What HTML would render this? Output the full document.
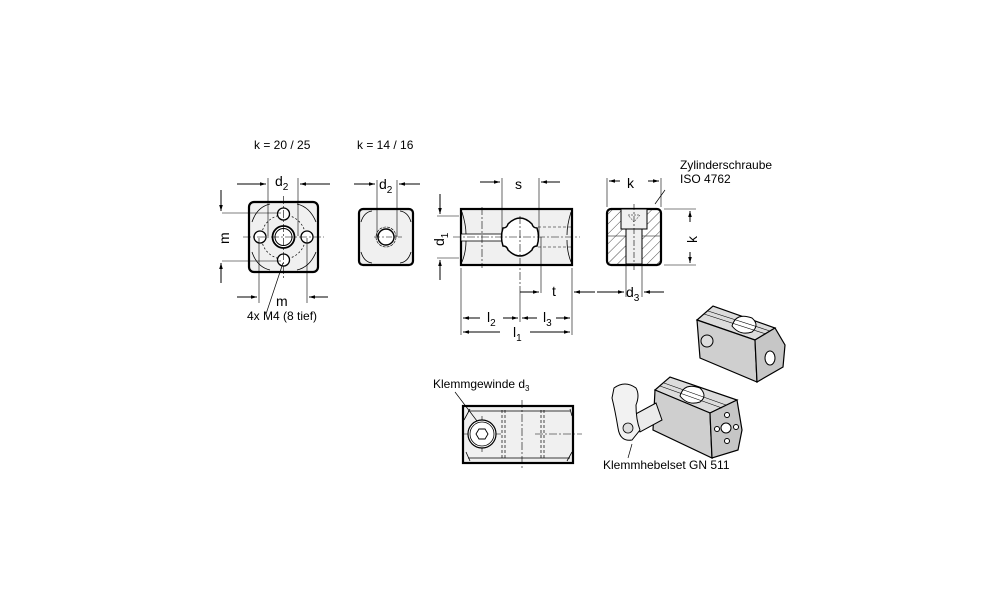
<!DOCTYPE html>
<html><head><meta charset="utf-8"><style>
html,body{margin:0;padding:0;background:#fff}
svg{display:block}
text{font-family:"Liberation Sans",Arial,sans-serif;fill:#000}
</style></head><body>
<svg width="1000" height="611" viewBox="0 0 1000 611" xmlns="http://www.w3.org/2000/svg">
<defs>
<marker id="a" viewBox="0 0 10 10" refX="10" refY="5" markerWidth="8" markerHeight="6" orient="auto-start-reverse"><path d="M0,2 L10,5 L0,8z" fill="#000"/></marker>
<pattern id="h" width="7" height="7" patternUnits="userSpaceOnUse" patternTransform="rotate(45)"><line x1="0" y1="0" x2="0" y2="7" stroke="#000" stroke-width="0.7"/></pattern>
</defs>
<g stroke="#000" fill="none" stroke-width="1">
<!-- View 1 -->
<rect x="249" y="202" width="69" height="70" rx="5" fill="#f0f0f0" stroke-width="2.2"/>
<path d="M252,222 Q257,207 270,204 M297,204 Q310,207 316,222 M316,252 Q310,267 297,270 M270,270 Q257,267 252,252" stroke-width="0.8"/>
<circle cx="283.5" cy="237" r="22" stroke-dasharray="2,2" stroke-width="0.7"/>
<circle cx="283.5" cy="237" r="11" fill="#fff" stroke-width="1.8"/>
<circle cx="283.5" cy="237" r="8.5"/>
<circle cx="283.5" cy="214" r="6" fill="#fff" stroke-width="1.3"/>
<circle cx="283.5" cy="260" r="6" fill="#fff" stroke-width="1.3"/>
<circle cx="260" cy="237" r="6" fill="#fff" stroke-width="1.3"/>
<circle cx="307" cy="237" r="6" fill="#fff" stroke-width="1.3"/>
<line x1="243" y1="237" x2="324" y2="237" stroke-dasharray="8,2,2,2" stroke-width="0.6"/>
<line x1="283.5" y1="196" x2="283.5" y2="278" stroke-dasharray="8,2,2,2" stroke-width="0.6"/>
<line x1="268" y1="178" x2="268" y2="236" stroke-width="0.6"/><line x1="298" y1="178" x2="298" y2="236" stroke-width="0.6"/>
<line x1="237" y1="184" x2="266" y2="184" marker-end="url(#a)"/><line x1="330" y1="184" x2="300" y2="184" marker-end="url(#a)"/>
<line x1="222" y1="213" x2="281" y2="213" stroke-width="0.6"/><line x1="222" y1="261" x2="281" y2="261" stroke-width="0.6"/>
<line x1="221" y1="190" x2="221" y2="211" marker-end="url(#a)"/><line x1="221" y1="283" x2="221" y2="263" marker-end="url(#a)"/>
<line x1="259" y1="238" x2="259" y2="303" stroke-width="0.6"/><line x1="307" y1="238" x2="307" y2="303" stroke-width="0.6"/>
<line x1="237" y1="297" x2="257" y2="297" marker-end="url(#a)"/><line x1="328" y1="297" x2="309" y2="297" marker-end="url(#a)"/>
<line x1="283" y1="263" x2="266" y2="314" stroke-width="0.7"/>
<!-- View 2 -->
<rect x="359" y="209" width="54" height="56" rx="4" fill="#f0f0f0" stroke-width="2.2"/>
<path d="M361,222 Q364,212 372,211 M400,211 Q408,212 411,222 M411,252 Q408,262 400,263 M372,263 Q364,262 361,252" stroke-width="0.8"/>
<circle cx="386" cy="237" r="8" fill="#fff" stroke-width="1.4"/>
<circle cx="386" cy="237" r="10" stroke-dasharray="3,1" stroke-width="0.6"/>
<line x1="374" y1="237" x2="402" y2="237" stroke-dasharray="6,2,2,2" stroke-width="0.6"/>
<line x1="377" y1="180" x2="377" y2="237" stroke-width="0.6"/><line x1="397" y1="180" x2="397" y2="237" stroke-width="0.6"/>
<line x1="354" y1="184" x2="375" y2="184" marker-end="url(#a)"/><line x1="420" y1="184" x2="399" y2="184" marker-end="url(#a)"/>
<!-- View 3 -->
<rect x="461" y="209" width="111" height="56" fill="#f0f0f0" stroke-width="2.2"/>
<path d="M462,212 Q466,225 466,234 M466,241 Q466,252 462,262 M571,212 Q567,225 567,235 M567,240 Q567,252 571,262" stroke-width="0.8"/>
<rect x="461" y="234" width="42" height="7" fill="#fff" stroke-width="0.8"/>
<path d="M503,228 Q507,228 508,224 Q520,212 532,224 Q533,228 537,228 Q540,237 537,246 Q533,246 532,250 Q520,262 508,250 Q507,246 503,246 Q500,237 503,228z" fill="#fff" stroke-width="1.5"/>
<line x1="538" y1="227" x2="571" y2="227" stroke-dasharray="3,2" stroke-width="0.6"/>
<line x1="538" y1="247" x2="571" y2="247" stroke-dasharray="3,2" stroke-width="0.6"/>
<line x1="453" y1="237" x2="580" y2="237" stroke-dasharray="8,2,2,2" stroke-width="0.6"/>
<line x1="520" y1="216" x2="520" y2="288" stroke-dasharray="8,2,2,2" stroke-width="0.6"/>
<line x1="482" y1="207" x2="482" y2="268" stroke-dasharray="8,2,2,2" stroke-width="0.6"/>
<line x1="502" y1="178" x2="502" y2="236" stroke-width="0.6"/><line x1="539" y1="178" x2="539" y2="236" stroke-width="0.6"/>
<line x1="480" y1="182" x2="500" y2="182" marker-end="url(#a)"/><line x1="560" y1="182" x2="541" y2="182" marker-end="url(#a)"/>
<line x1="541" y1="237" x2="541" y2="293" stroke-width="0.6"/>
<line x1="437" y1="216" x2="459" y2="216" stroke-width="0.6"/><line x1="437" y1="258" x2="459" y2="258" stroke-width="0.6"/>
<line x1="440" y1="194" x2="440" y2="214" marker-end="url(#a)"/><line x1="440" y1="280" x2="440" y2="260" marker-end="url(#a)"/>
<line x1="461" y1="268" x2="461" y2="335" stroke-width="0.6"/><line x1="572" y1="268" x2="572" y2="335" stroke-width="0.6"/>
<line x1="520" y1="288" x2="520" y2="322" stroke-width="0.6"/>
<line x1="520" y1="292" x2="539" y2="292" marker-end="url(#a)"/><line x1="595" y1="292" x2="574" y2="292" marker-end="url(#a)"/>
<line x1="480" y1="318" x2="463" y2="318" marker-end="url(#a)"/><line x1="503" y1="318" x2="518" y2="318" marker-end="url(#a)"/>
<line x1="537" y1="318" x2="522" y2="318" marker-end="url(#a)"/><line x1="556" y1="318" x2="570" y2="318" marker-end="url(#a)"/>
<line x1="500" y1="332" x2="463" y2="332" marker-end="url(#a)"/><line x1="530" y1="332" x2="570" y2="332" marker-end="url(#a)"/>
<!-- View 4 -->
<rect x="607" y="209" width="54" height="56" rx="4" fill="url(#h)" stroke-width="2.2"/>
<rect x="621" y="209" width="26" height="20" fill="#f0f0f0" stroke-width="1"/>
<rect x="626" y="229" width="16" height="35" fill="#f0f0f0" stroke-width="1"/>
<line x1="607" y1="236" x2="626" y2="236" stroke-width="0.6"/><line x1="642" y1="236" x2="661" y2="236" stroke-width="0.6"/>
<line x1="634" y1="204" x2="634" y2="270" stroke-dasharray="6,2,2,2" stroke-width="0.6"/>
<path d="M628,215 L640,215 L634,222z" stroke-dasharray="2,1" stroke-width="0.5"/>
<line x1="607" y1="178" x2="607" y2="207" stroke-width="0.6"/><line x1="661" y1="178" x2="661" y2="207" stroke-width="0.6"/>
<line x1="620" y1="181" x2="609" y2="181" marker-end="url(#a)"/><line x1="648" y1="181" x2="659" y2="181" marker-end="url(#a)"/>
<line x1="664" y1="209" x2="696" y2="209" stroke-width="0.6"/><line x1="664" y1="265" x2="696" y2="265" stroke-width="0.6"/>
<line x1="690" y1="222" x2="690" y2="211" marker-end="url(#a)"/><line x1="690" y1="252" x2="690" y2="263" marker-end="url(#a)"/>
<line x1="626" y1="266" x2="626" y2="297" stroke-width="0.6"/><line x1="642" y1="266" x2="642" y2="297" stroke-width="0.6"/>
<line x1="597" y1="292" x2="624" y2="292" marker-end="url(#a)"/><line x1="664" y1="292" x2="644" y2="292" marker-end="url(#a)"/>
<line x1="665" y1="190" x2="655" y2="204" stroke-width="0.7"/>
<!-- bottom view -->
<rect x="463" y="406" width="110" height="57" fill="#f0f0f0" stroke-width="2.2"/>
<path d="M464,420 L470,409 M570,409 L572,416 M466,452 L470,461 M567,461 L572,452" stroke-width="0.8"/>
<line x1="468" y1="411" x2="570" y2="411" stroke-width="0.7"/><line x1="468" y1="458" x2="570" y2="458" stroke-width="0.7"/>
<line x1="502" y1="410" x2="502" y2="460" stroke-dasharray="3,2" stroke-width="0.7"/><line x1="505" y1="410" x2="505" y2="460" stroke-dasharray="3,2" stroke-width="0.7"/>
<line x1="541" y1="410" x2="541" y2="460" stroke-dasharray="3,2" stroke-width="0.7"/><line x1="544" y1="410" x2="544" y2="460" stroke-dasharray="3,2" stroke-width="0.7"/>
<line x1="522" y1="400" x2="522" y2="468" stroke-dasharray="8,2,2,2" stroke-width="0.6"/>
<line x1="535" y1="434" x2="582" y2="434" stroke-dasharray="8,2,2,2" stroke-width="0.6"/>
<line x1="463" y1="434" x2="501" y2="434" stroke-width="0.6"/>
<line x1="482" y1="416" x2="482" y2="452" stroke-width="0.6"/>
<circle cx="482" cy="434" r="14" fill="#fff" stroke-width="1.2"/>
<circle cx="482" cy="434" r="12" stroke-width="0.8"/>
<path d="M476,434 L479,429 L485,429 L488,434 L485,439 L479,439z" stroke-width="0.9"/>
<line x1="455" y1="392" x2="477" y2="421" stroke-width="0.7"/>
<!-- 3D upper block -->
<path d="M697,320 L713,306 L775,328 L755,340z" fill="#dcdcdc" stroke-width="1.2"/>
<path d="M697,320 L755,340 L757,382 L700,358z" fill="#cfcfcf" stroke-width="1.2"/>
<path d="M755,340 L775,328 L785,345 L783,367 L757,382z" fill="#c6c6c6" stroke-width="1.2"/>
<ellipse cx="770" cy="358" rx="5" ry="7" fill="#fff" stroke-width="1"/>
<circle cx="707" cy="341" r="6" fill="#ddd" stroke-width="1"/>
<path d="M732,326 Q736,312 752,318 Q760,325 752,332 Q740,336 732,326z" fill="#fff" stroke-width="1"/>
<path d="M704,314 L766,334 M708,311 L770,331" stroke-width="0.6"/>
<!-- lower block -->
<path d="M655,390 L670,377 L737,400 L710,413z" fill="#dcdcdc" stroke-width="1.2"/>
<path d="M655,390 L710,413 L712,458 L653,430z" fill="#cfcfcf" stroke-width="1.2"/>
<path d="M710,413 L737,400 L742,430 L738,450 L712,458z" fill="#c6c6c6" stroke-width="1.2"/>
<circle cx="726" cy="428" r="5" fill="#fff" stroke-width="1"/>
<circle cx="727" cy="415" r="2.5" fill="#fff"/><circle cx="727" cy="441" r="2.5" fill="#fff"/>
<circle cx="717" cy="429" r="2.5" fill="#fff"/><circle cx="736" cy="427" r="2.5" fill="#fff"/>
<path d="M680,396 Q684,382 700,388 Q708,396 700,402 Q688,406 680,396z" fill="#fff" stroke-width="1"/>
<path d="M660,386 L722,408 M664,383 L726,405" stroke-width="0.6"/>
<!-- lever -->
<path d="M656,403 L662,420 L640,432 L632,416z" fill="#ebebeb" stroke-width="1"/>
<path d="M614,388 Q625,380 636,388 Q640,395 636,405 Q636,420 640,430 L632,440 Q620,442 618,428 Q615,410 612,398z" fill="#f2f2f2" stroke-width="1"/>
<circle cx="628" cy="428" r="5" fill="#ddd" stroke-width="0.8"/>
<line x1="632" y1="444" x2="628" y2="458" stroke-width="0.7"/>
</g>
<g font-size="12">
<text x="254" y="149">k = 20 / 25</text>
<text x="357" y="149">k = 14 / 16</text>
<text x="275" y="186" font-size="14">d<tspan font-size="10" dy="4">2</tspan></text>
<text x="379" y="189" font-size="14">d<tspan font-size="10" dy="4">2</tspan></text>
<text x="515" y="189" font-size="14">s</text>
<text x="627" y="188" font-size="14">k</text>
<text x="276" y="306" font-size="14">m</text>
<text transform="translate(229,244) rotate(-90)" font-size="14">m</text>
<text transform="translate(444,246) rotate(-90)" font-size="14">d<tspan font-size="10" dy="4">1</tspan></text>
<text transform="translate(697,243) rotate(-90)" font-size="14">k</text>
<text x="247" y="320">4x M4 (8 tief)</text>
<text x="552" y="296" font-size="14">t</text>
<text x="487" y="322" font-size="14">l<tspan font-size="10" dy="4">2</tspan></text>
<text x="543" y="322" font-size="14">l<tspan font-size="10" dy="4">3</tspan></text>
<text x="513" y="337" font-size="14">l<tspan font-size="10" dy="4">1</tspan></text>
<text x="626" y="297" font-size="14">d<tspan font-size="10" dy="4">3</tspan></text>
<text x="680" y="169">Zylinderschraube</text>
<text x="680" y="183">ISO 4762</text>
<text x="433" y="388">Klemmgewinde d<tspan font-size="8" dy="3">3</tspan></text>
<text x="603" y="469">Klemmhebelset GN 511</text>
</g>
</svg>
</body></html>
